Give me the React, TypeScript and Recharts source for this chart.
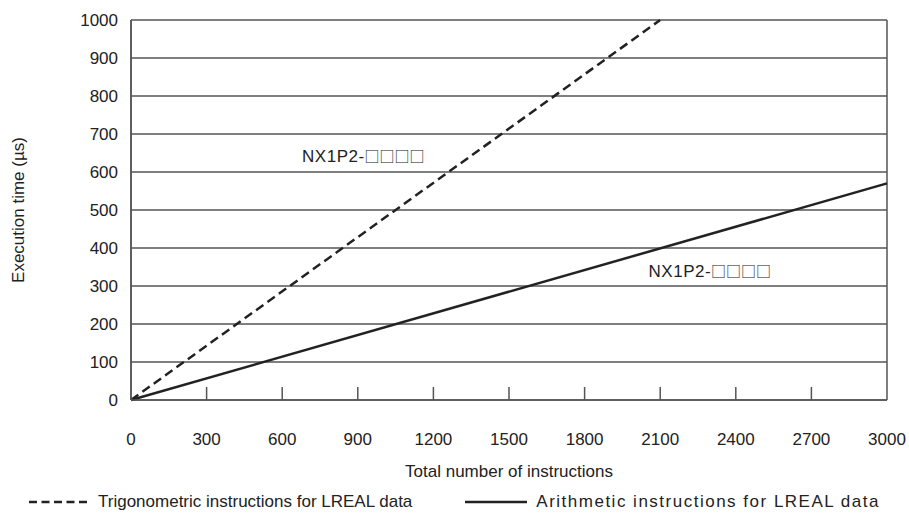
import { LineChart, Line, XAxis, YAxis, CartesianGrid, ReferenceDot, Legend } from "recharts";

const xTicks = [0, 300, 600, 900, 1200, 1500, 1800, 2100, 2400, 2700, 3000];
const yTicks = [0, 100, 200, 300, 400, 500, 600, 700, 800, 900, 1000];

// dashed line: trigonometric instructions
const trigCount = [0, 2100];
const trigTime = [0, 1000];
// solid line: arithmetic instructions
const arithCount = [0, 3000];
const arithTime = [0, 570];

const modelPrefix = "NX1P2-";
const modelBoxes = "□□□□";
const trigName = "Trigonometric instructions for LREAL data";
const arithName = "Arithmetic instructions for LREAL data";

const trigData = trigCount.map((n, i) => ({ n, t: trigTime[i] }));
const arithData = arithCount.map((n, i) => ({ n, t: arithTime[i] }));

const ink = "#222";
const gridInk = "#555";
const font = "'Liberation Sans', Arial, sans-serif";
const cjk = "'Noto Sans CJK JP', 'DejaVu Sans', sans-serif";

const XTick = (props: any) => {
  const { x, y, payload } = props;
  const v = payload.value;
  const inner = v !== 0 && v !== 3000;
  return (
    <g>
      {inner && <line x1={x} x2={x} y1={y} y2={y - 13} stroke={gridInk} strokeWidth={1.5} />}
      <text x={x} y={y + 45} textAnchor="middle" fill={ink} fontSize={17} fontFamily={font}>
        {v}
      </text>
    </g>
  );
};

const ModelLabel = (props: any) => {
  const vb = props.viewBox || {};
  const cx = vb.x + (vb.width || 0) / 2;
  const cy = vb.y + (vb.height || 0) / 2;
  return (
    <text x={cx} y={cy} dy={6} textAnchor="middle" fill={ink} fontSize={17} fontFamily={font} letterSpacing={0.5}>
      {modelPrefix}
      <tspan fontFamily={cjk} fontSize={15} letterSpacing={0}>{modelBoxes}</tspan>
    </text>
  );
};

const LegendBox = () => (
  <div style={{ display: "flex", whiteSpace: "nowrap", width: 909, fontFamily: font, fontSize: 17, color: ink, alignItems: "center", height: 24 }}>
    <svg width={62} height={10} style={{ marginLeft: 29, flexShrink: 0 }}>
      <line x1={0} x2={62} y1={5} y2={5} stroke={ink} strokeWidth={2.5} strokeDasharray="8 4.5" />
    </svg>
    <span style={{ marginLeft: 7 }}>{trigName}</span>
    <svg width={62} height={10} style={{ marginLeft: 53, flexShrink: 0 }}>
      <line x1={0} x2={62} y1={5} y2={5} stroke={ink} strokeWidth={2.5} />
    </svg>
    <span style={{ marginLeft: 9, letterSpacing: 1.5 }}>{arithName}</span>
  </div>
);

export default function App() {
  return (
    <div style={{ position: "absolute", left: 0, top: 0, width: 909, height: 513, background: "#fff" }}>
      <LineChart width={909} height={513} margin={{ top: 20, right: 22, left: 0, bottom: 0 }}>
        <CartesianGrid
          stroke={gridInk}
          strokeWidth={1.5}
          verticalCoordinatesGenerator={({ offset }: any) => [offset.left, offset.left + offset.width]}
        />
        <XAxis
          type="number"
          dataKey="n"
          domain={[0, 3000]}
          ticks={xTicks}
          interval={0}
          tick={<XTick />}
          tickLine={false}
          tickSize={0}
          tickMargin={0}
          axisLine={{ stroke: gridInk, strokeWidth: 1.5 }}
          height={87}
          label={{ value: "Total number of instructions", position: "insideBottom", offset: 10, fill: ink, fontSize: 17, fontFamily: font }}
        />
        <YAxis
          type="number"
          domain={[0, 1000]}
          ticks={yTicks}
          interval={0}
          width={131}
          tickLine={false}
          tickSize={0}
          tickMargin={13}
          tick={{ fill: ink, fontSize: 17, fontFamily: font }}
          axisLine={{ stroke: gridInk, strokeWidth: 1.5 }}
          label={{ value: "Execution time (µs)", angle: -90, position: "insideLeft", offset: 18, fill: ink, fontSize: 17, fontFamily: font, style: { textAnchor: "middle" } }}
        />
        <Legend verticalAlign="bottom" height={26} wrapperStyle={{ bottom: -3, left: 0, width: 909 }} content={<LegendBox />} />
        <Line data={trigData} dataKey="t" stroke={ink} strokeWidth={2.5} strokeDasharray="9 5" dot={false} isAnimationActive={false} />
        <Line data={arithData} dataKey="t" stroke={ink} strokeWidth={2.5} dot={false} isAnimationActive={false} />
        <ReferenceDot x={922} y={643} r={0} label={<ModelLabel />} />
        <ReferenceDot x={2297} y={339} r={0} label={<ModelLabel />} />
      </LineChart>
    </div>
  );
}
